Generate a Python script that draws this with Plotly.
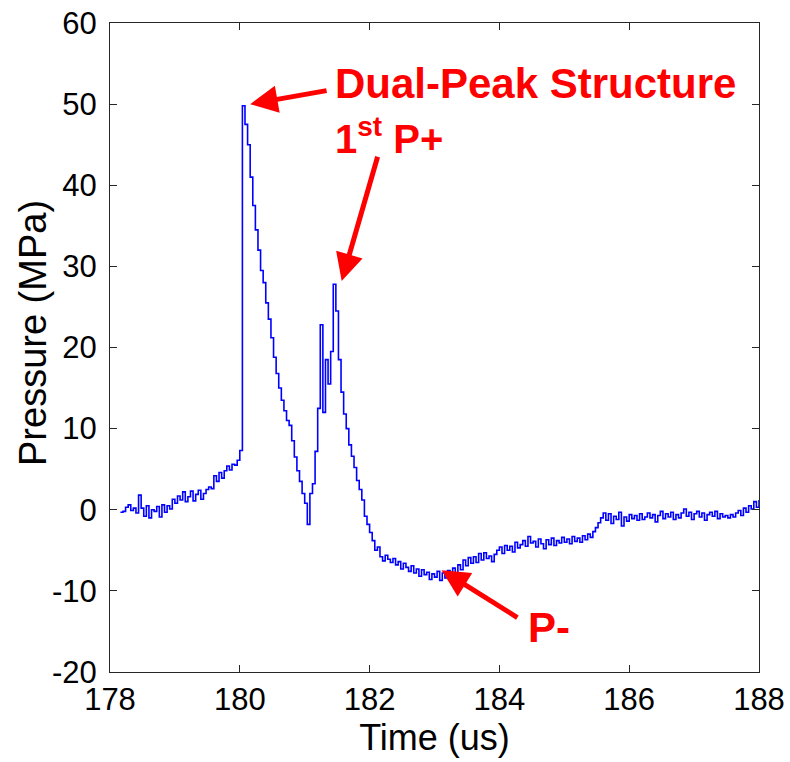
import numpy as np
import plotly.graph_objects as go

# ---- data ----
t_start = 178.16   # us, first sample
t_step = 0.04      # us, sample spacing
pressure = [
    -0.3, -0.2, 0.3, 0.6, -0.1, 0.2, -0.4, 1.8, 0.2, -0.8, 0.5, -1.0, 0.0, -0.2, 0.4, -0.9, 0.6, -0.3, 0.5, 0.1, 1.3,
    0.8, 1.7, 1.2, 2.2, 1.0, 1.6, 2.3, 1.1, 1.9, 2.4, 1.3, 2.0, 2.5, 2.8, 2.6, 4.2, 3.5, 4.6, 3.9, 4.8, 5.4, 4.9, 5.6, 5.5, 6.1, 7.3,
    49.8, 47.5, 45.0, 41.0, 37.5, 34.5, 32.0, 29.5, 28.0, 25.5, 23.5, 21.2, 18.8, 16.8, 15.0, 13.5, 12.2, 11.0, 10.4, 8.5, 6.5, 4.8, 3.5, 2.0, 0.8,
    -1.8, 2.0, 3.2, 7.2, 12.5, 22.8, 12.0, 18.5, 15.5, 19.5, 27.8, 24.5, 18.5, 14.5, 11.8, 10.0, 8.0, 6.6, 5.2, 3.6, 2.5, 1.2, -0.8, -1.8,
    -2.8, -3.8, -5.0, -4.6, -5.8, -6.3, -5.6, -6.1, -6.5, -6.0, -6.8, -6.4, -7.3, -6.6, -7.1, -7.6, -6.9, -7.8, -7.3, -8.2, -7.4, -8.0, -7.7, -8.6, -7.9,
    -8.3, -7.6, -8.7, -7.8, -8.4, -7.5, -8.1, -7.2, -7.9, -6.8, -7.4, -6.2, -6.9, -5.9, -6.6, -5.8, -6.5, -5.4, -6.2, -5.3, -6.0, -5.7, -6.4, -5.5, -5.0,
    -4.6, -5.4, -4.4, -5.0, -4.5, -5.2, -4.0, -4.7, -4.3, -3.8, -4.5, -3.3, -4.1, -3.9, -4.6, -3.6, -4.2, -4.8, -3.7, -4.3, -3.5, -4.4, -3.8, -4.1, -3.4,
    -4.0, -3.6, -4.2, -3.3, -3.9, -3.5, -4.0, -3.2, -3.7, -3.0, -3.4, -2.7, -2.2, -1.6, -1.0, -0.4, -1.3, -0.5, -1.7, -0.8, -1.2, -0.3, -2.0, -0.9, -1.4,
    -0.6, -1.1, -0.7, -1.3, -0.5, -1.2, -0.9, -0.4, -1.0, -0.6, -1.5, -0.7, -0.2, -1.1, -0.5, -0.9, -0.3, -1.2, -0.6, -1.0, -0.4, 0.1, -0.8, -0.3, -1.2,
    -0.5, -0.2, -0.9, -0.4, -1.3, -0.6, -0.3, -0.8, -0.2, -1.1, -0.5, -0.9, -0.7, -1.0, -0.6, -0.9, -0.4, -0.1, -0.7, 0.2, -0.3, 0.5, 0.1, 1.0, 0.3, 1.2,
]
time_us = np.round(t_start + t_step * np.arange(len(pressure)), 2)

x_ticks = [178, 180, 182, 184, 186, 188]
y_ticks = [-20, -10, 0, 10, 20, 30, 40, 50, 60]

# annotation labels: (text, x, y, font size)
labels = [
    ("Dual-Peak Structure", 181.44, 52.6, 42),
    ("1<sup>st</sup> P+", 181.44, 46.1, 40),
    ("P-", 184.41, -14.5, 42),
]
# arrows: (tip_x, tip_y, tail_x, tail_y)
arrows = [
    (180.16, 50.0, 181.36, 51.7),
    (181.57, 28.2, 182.13, 43.7),
    (183.11, -7.45, 184.30, -13.4),
]

RED = "#FF0000"
FONT = "Liberation Sans, Arial"
fig = go.Figure()
fig.add_trace(go.Scatter(
    x=time_us, y=pressure, mode="lines",
    line=dict(color="#0000FF", width=1.6, shape="hv"),
    showlegend=False, hoverinfo="skip",
))

for text, x, y, size in labels:
    fig.add_annotation(
        x=x, y=y, xref="x", yref="y", text=text, showarrow=False,
        xanchor="left", yanchor="middle",
        font=dict(family=FONT, size=size, color=RED, weight="bold"),
    )

for tx, ty, ax, ay in arrows:
    fig.add_annotation(
        x=tx, y=ty, xref="x", yref="y", ax=ax, ay=ay, axref="x", ayref="y",
        text="", showarrow=True, arrowhead=2, arrowsize=1.1, arrowwidth=5,
        arrowcolor=RED,
    )

# y-axis title placed as a rotated annotation
fig.add_annotation(
    x=-0.119, y=0.522, xref="paper", yref="paper", text="Pressure (MPa)",
    textangle=-90, showarrow=False, xanchor="center", yanchor="middle",
    font=dict(family=FONT, size=38, color="black"),
)

axis_common = dict(
    showline=True, linecolor="#262626", linewidth=1, mirror="ticks",
    ticks="inside", ticklen=7, tickwidth=1, tickcolor="#262626",
    showgrid=False, zeroline=False, automargin=False,
    tickfont=dict(family=FONT, size=31, color="black"),
)

fig.update_xaxes(
    range=[178, 188], tickvals=x_ticks, ticktext=[str(v) for v in x_ticks],
    title=dict(text="Time (us)", font=dict(family=FONT, size=36, color="black"), standoff=4),
    **axis_common,
)
fig.update_yaxes(
    range=[-20, 60], tickvals=y_ticks, ticktext=[str(v) for v in y_ticks],
    ticklabelstandoff=6,
    **axis_common,
)

fig.update_layout(
    width=790, height=762,
    margin=dict(l=110, r=31, t=23, b=90),
    paper_bgcolor="white", plot_bgcolor="white",
)

fig.write_html("out.html")
